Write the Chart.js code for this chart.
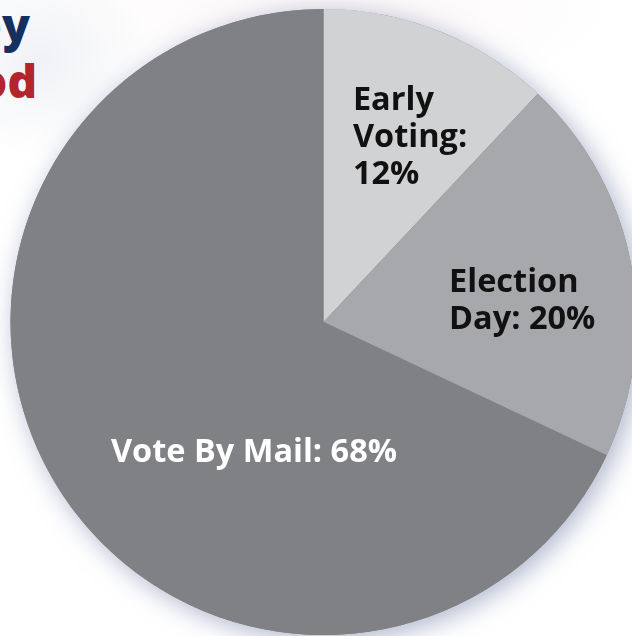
<!DOCTYPE html>
<html>
<head>
<meta charset="utf-8">
<script src="https://cdn.jsdelivr.net/npm/chart.js@4"></script>
<style>
  html, body { margin: 0; padding: 0; width: 632px; height: 636px; overflow: hidden; background: #fff; }
  body {
    position: relative;
    font-family: "Open Sans", sans-serif;
    background:
      radial-gradient(ellipse 420px 120px at 330px 10px, rgba(200, 120, 130, 0.06), rgba(255,255,255,0) 70%),
      radial-gradient(ellipse 160px 140px at 40px 60px, rgba(170, 180, 200, 0.18), rgba(255,255,255,0) 70%),
      #fff;
  }
  .title {
    position: absolute;
    width: 400px;
    text-align: right;
    font-weight: 800;
    font-size: 46px;
    line-height: 1;
    white-space: nowrap;
  }
  #t1 { left: -370px; top: 1px; color: #14305e; }
  #t2 { left: -363px; top: 57px; color: #b3252c; }
  #wrap { position: absolute; left: 0; top: 0; width: 647px; height: 644px; }
</style>
</head>
<body>
<div class="title" id="t1">Turnout by</div>
<div class="title" id="t2">Voting Method</div>
<div id="wrap"><canvas id="pastel"></canvas></div>
<script>
// Datos del gráfico
const categories = ['Early Voting', 'Election Day', 'Vote By Mail'];
const shares = [12, 20, 68];
const sliceColors = ['#d1d2d4', '#a7a8ab', '#808185'];

// Sombra suave alrededor del pastel
const pieShadow = {
  id: 'pieShadow',
  beforeDatasetsDraw(chart) {
    const arc = chart.getDatasetMeta(0).data[0];
    if (!arc) return;
    const ctx = chart.ctx;
    ctx.save();
    ctx.shadowColor = 'rgba(120, 132, 170, 0.6)';
    ctx.shadowBlur = 26;
    ctx.shadowOffsetX = 5;
    ctx.shadowOffsetY = 5;
    ctx.fillStyle = '#808185';
    ctx.beginPath();
    ctx.arc(arc.x, arc.y, arc.outerRadius, 0, Math.PI * 2);
    ctx.fill();
    ctx.restore();
  }
};

// Etiquetas dentro de cada porción
const sliceLabels = {
  id: 'sliceLabels',
  afterDatasetsDraw(chart, args, opts) {
    const ctx = chart.ctx;
    const meta = chart.getDatasetMeta(0);
    ctx.save();
    ctx.font = 'bold ' + opts.size + 'px "Open Sans"';
    ctx.textAlign = 'left';
    ctx.textBaseline = 'alphabetic';
    meta.data.forEach((arc, i) => {
      const place = opts.places[i];
      const text = categories[i] + ': ' + shares[i] + '%';
      // ajustar texto al ancho
      const words = text.split(' ');
      const lines = [];
      let line = '';
      words.forEach(w => {
        const test = line ? line + ' ' + w : w;
        if (line && ctx.measureText(test).width > place.maxWidth) {
          lines.push(line);
          line = w;
        } else {
          line = test;
        }
      });
      lines.push(line);
      const x = arc.x + place.dx * arc.outerRadius;
      let y = arc.y + place.dy * arc.outerRadius;
      ctx.fillStyle = place.color;
      lines.forEach(l => {
        ctx.fillText(l, x, y);
        y += opts.lineHeight;
      });
    });
    ctx.restore();
  }
};

const configPie = {
  type: 'pie',
  data: {
    labels: categories,
    datasets: [{
      data: shares,
      backgroundColor: sliceColors,
      borderWidth: 0,
      hoverOffset: 0
    }]
  },
  options: {
    responsive: true,
    maintainAspectRatio: false,
    animation: false,
    events: [],
    layout: { padding: 9 },
    plugins: {
      legend: { display: false },
      tooltip: { enabled: false },
      sliceLabels: {
        size: 32.5,
        lineHeight: 37,
        places: [
          { dx: 0.094, dy: -0.677, maxWidth: 125, color: '#111' },
          { dx: 0.401, dy: -0.096, maxWidth: 165, color: '#111' },
          { dx: -0.679, dy: 0.447, maxWidth: 420, color: '#fff' }
        ]
      }
    }
  },
  plugins: [pieShadow, sliceLabels]
};

const ctxPie = document.getElementById('pastel').getContext('2d');
new Chart(ctxPie, configPie);
</script>
</body>
</html>
